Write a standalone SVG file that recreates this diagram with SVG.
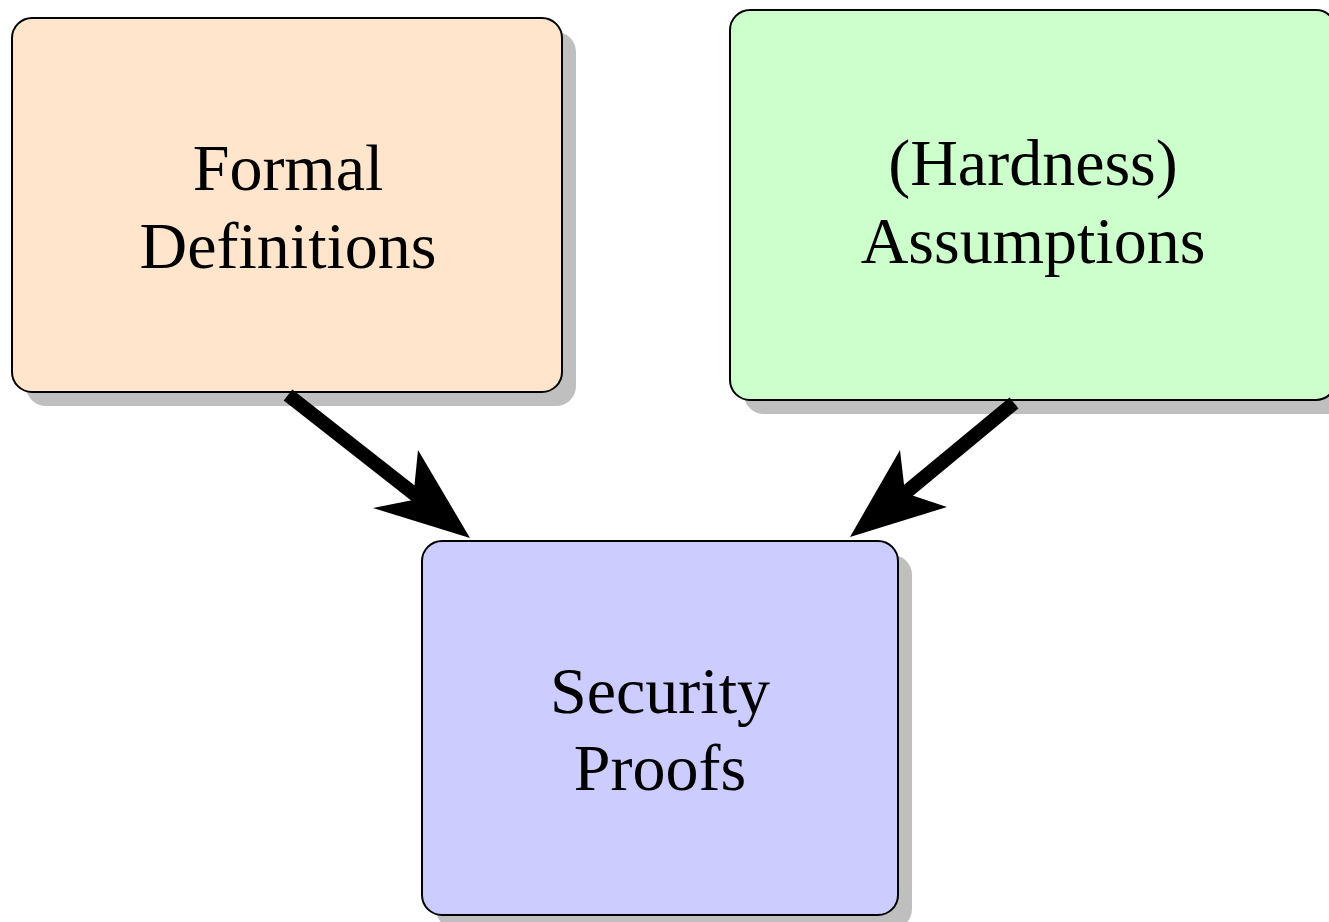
<svg xmlns="http://www.w3.org/2000/svg" width="1329" height="922" viewBox="0 0 1329 922">
  <style>
    .shadow { fill: #bfbfbf; }
    .box { stroke: #000; stroke-width: 2; }
    .label { font-family: "Liberation Serif", "DejaVu Serif", serif; font-size: 66px; fill: #000; text-anchor: middle; }
    .shaft { stroke: #000; stroke-width: 14; fill: none; }
    .head { fill: #000; }
  </style>
  <rect width="1329" height="922" fill="#fff"/>

  <g id="formal-definitions">
    <rect class="shadow" x="26" y="32" width="550" height="374" rx="20"/>
    <rect class="box" x="12" y="18" width="550" height="374" rx="20" fill="#ffe5cc"/>
    <text class="label" x="288" y="190">Formal</text>
    <text class="label" x="288" y="268">Definitions</text>
  </g>

  <g id="hardness-assumptions">
    <rect class="shadow" x="744" y="24" width="606" height="390" rx="20"/>
    <rect class="box" x="730" y="10" width="606" height="390" rx="20" fill="#ccffcc"/>
    <text class="label" x="1033" y="185">(Hardness)</text>
    <text class="label" x="1033" y="263">Assumptions</text>
  </g>

  <g id="security-proofs">
    <rect class="shadow" x="436" y="555" width="476" height="374" rx="20"/>
    <rect class="box" x="422" y="541" width="476" height="374" rx="20" fill="#ccccff"/>
    <text class="label" x="660" y="713">Security</text>
    <text class="label" x="660" y="790">Proofs</text>
  </g>

  <g id="connectors">
    <line class="shaft" x1="288" y1="395" x2="418" y2="497"/>
    <path class="head" d="M470,538 L373,508 L413,500 L418,450 Z"/>
    <line class="shaft" x1="1014" y1="403" x2="904" y2="494"/>
    <path class="head" d="M850,537 L900,450 L905,493 L947,507 Z"/>
  </g>
</svg>
